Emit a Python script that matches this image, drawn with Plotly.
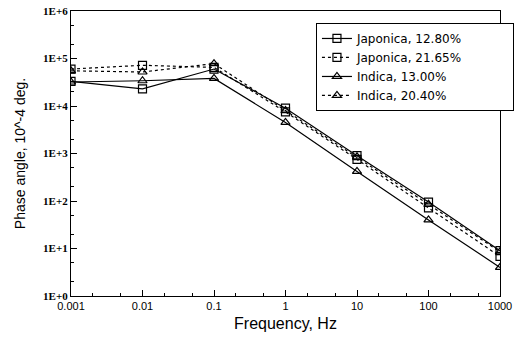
import plotly.graph_objects as go

freq = [0.001, 0.01, 0.1, 1, 10, 100, 1000]
jap_1280 = [33000, 23000, 60000, 9000, 900, 95, 9.0]
jap_2165 = [60000, 72000, 65000, 7500, 750, 72, 6.8]
ind_1300 = [32000, 34000, 38000, 4500, 420, 40, 4.0]
ind_2040 = [55000, 52000, 78000, 8000, 850, 85, 8.5]

names = ["Japonica, 12.80%", "Japonica, 21.65%", "Indica, 13.00%", "Indica, 20.40%"]
series = [jap_1280, jap_2165, ind_1300, ind_2040]
dashes = ["solid", "dot", "solid", "dot"]
symbols = ["square-open", "square-open", "triangle-up-open", "triangle-up-open"]

ytickvals = [1, 10, 100, 1000, 1e4, 1e5, 1e6]
yticktext = ["1E+0", "1E+1", "1E+2", "1E+3", "1E+4", "1E+5", "1E+6"]
xticktext = ["0.001", "0.01", "0.1", "1", "10", "100", "1000"]

pad = "\u00a0" * 12

fig = go.Figure()
for n, s, d, m in zip(names, series, dashes, symbols):
    fig.add_trace(go.Scatter(
        x=freq, y=s, name=n + pad, mode="lines+markers",
        line=dict(color="black", width=1.2, dash=d),
        marker=dict(symbol=m, size=8, color="black", line=dict(width=1.2, color="black")),
    ))

fig.update_layout(
    width=528, height=338,
    margin=dict(l=71, r=28, t=11, b=42),
    paper_bgcolor="white", plot_bgcolor="white",
    font=dict(family="Liberation Sans", color="black", size=11),
    legend=dict(x=0.571, y=0.958, xanchor="left", yanchor="top",
                bordercolor="black", borderwidth=1, bgcolor="white",
                font=dict(size=12, family="DejaVu Sans"),
                tracegroupgap=0, itemwidth=30),
    showlegend=True,
)
fig.update_xaxes(
    type="log", range=[-3, 3], tickvals=freq, ticktext=xticktext,
    ticks="inside", ticklen=6, tickcolor="black",
    minor=dict(ticks="inside", ticklen=3, tickcolor="black", showgrid=False),
    showline=True, linecolor="black", linewidth=1.2, mirror=True,
    showgrid=False, zeroline=False, automargin=False,
    ticklabeloverflow="allow",
    title=dict(text="Frequency, Hz", font=dict(size=16), standoff=6),
    tickfont=dict(size=11),
)
fig.update_yaxes(
    type="log", range=[0, 6], tickvals=ytickvals, ticktext=yticktext,
    ticks="inside", ticklen=6, tickcolor="black",
    minor=dict(ticks="inside", ticklen=3, tickcolor="black", showgrid=False),
    showline=True, linecolor="black", linewidth=1.2, mirror=True,
    showgrid=False, zeroline=False, automargin=False,
    ticklabeloverflow="allow",
    title=dict(text="Phase angle, 10^-4 deg.", font=dict(size=14), standoff=14),
    tickfont=dict(size=11, family="Liberation Serif", weight="bold"),
)
fig.write_html("out.html", config={"displayModeBar": False},
               post_script="document.body.style.margin='0';")
